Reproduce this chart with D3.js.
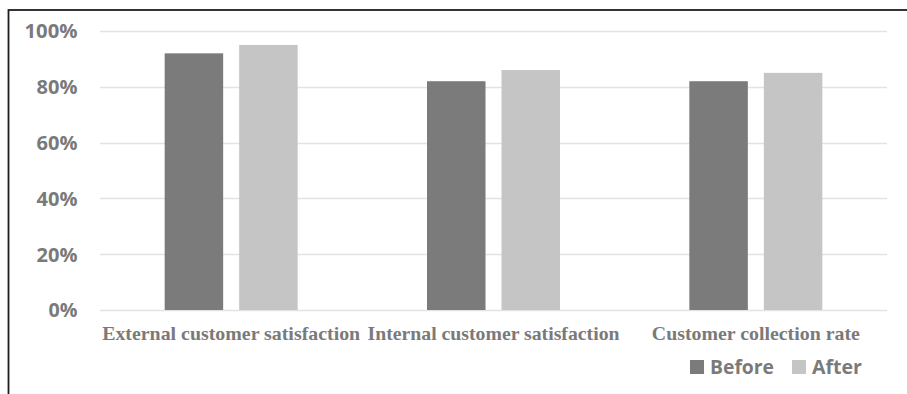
<!DOCTYPE html>
<html>
<head>
<meta charset="utf-8">
<script src="https://cdn.jsdelivr.net/npm/d3@7"></script>
<style>
  html, body { margin: 0; padding: 0; background: #fff; }
  svg { display: block; }
</style>
</head>
<body>
<svg id="chart" width="907" height="394"></svg>
<script>
// Chart data
const categories = ["External customer satisfaction", "Internal customer satisfaction", "Customer collection rate"];
const seriesNames = ["Before", "After"];
const beforeValues = [0.92, 0.82, 0.82];
const afterValues = [0.95, 0.86, 0.85];
const yTicks = [0, 0.2, 0.4, 0.6, 0.8, 1.0];

const colors = { Before: "#7b7b7b", After: "#c4c5c4" };
const textGrey = "#7a7a7a";

const svg = d3.select("#chart");
const W = 907, H = 394;

// Outer frame (runs off the right and bottom edges)
svg.append("rect")
  .attr("x", 8.5).attr("y", 10)
  .attr("width", W + 20).attr("height", H + 20)
  .attr("fill", "none")
  .attr("stroke", "#1e1e1e")
  .attr("stroke-width", 1.8);

const plot = { left: 100, right: 887, top: 31, bottom: 310 };

const y = d3.scaleLinear().domain([0, 1]).range([plot.bottom, plot.top]);
const x0 = d3.scaleBand().domain(categories).range([plot.left, plot.right]).paddingInner(0).paddingOuter(0);
const x1 = d3.scaleBand().domain(seriesNames).range([0, x0.bandwidth()])
  .paddingInner(0.2148).paddingOuter(0.868);

// Gridlines
svg.append("g")
  .selectAll("line")
  .data(yTicks)
  .join("line")
  .attr("x1", plot.left).attr("x2", plot.right)
  .attr("y1", d => Math.round(y(d)) + 0.5).attr("y2", d => Math.round(y(d)) + 0.5)
  .attr("stroke", "#e3e3e3")
  .attr("stroke-width", 1.5);

// Y axis labels
const fmt = d3.format(".0%");
const yAxis = d3.axisLeft(y).tickValues(yTicks).tickFormat(fmt).tickSize(0).tickPadding(0);
const yg = svg.append("g").attr("transform", `translate(77.5,0)`).call(yAxis);
yg.select(".domain").remove();
const tickWidths = { "0%": 29, "20%": 41, "40%": 41, "60%": 41, "80%": 41, "100%": 53 };
yg.selectAll("text")
  .attr("fill", textGrey)
  .attr("font-family", "'Open Sans', sans-serif")
  .attr("font-weight", "bold")
  .attr("font-size", 19)
  .attr("dy", "0.36em")
  .attr("text-anchor", "end")
  .attr("textLength", d => tickWidths[fmt(d)])
  .attr("lengthAdjust", "spacingAndGlyphs");

// Bars
const rows = categories.map((c, i) => ({ category: c, values: [
  { key: "Before", value: beforeValues[i] },
  { key: "After", value: afterValues[i] }
]}));

svg.append("g")
  .selectAll("g")
  .data(rows)
  .join("g")
  .attr("transform", d => `translate(${x0(d.category)},0)`)
  .selectAll("rect")
  .data(d => d.values)
  .join("rect")
  .attr("x", d => x1(d.key))
  .attr("width", x1.bandwidth())
  .attr("y", d => y(d.value))
  .attr("height", d => y(0) - y(d.value))
  .attr("fill", d => colors[d.key]);

// Category labels
const catWidths = [258, 252, 208];
svg.append("g")
  .selectAll("text")
  .data(categories)
  .join("text")
  .attr("x", d => x0(d) + x0.bandwidth() / 2)
  .attr("y", 340)
  .attr("text-anchor", "middle")
  .attr("fill", textGrey)
  .attr("font-family", "'Liberation Serif', 'Times New Roman', serif")
  .attr("font-weight", "bold")
  .attr("font-size", 19)
  .attr("textLength", (d, i) => catWidths[i])
  .attr("lengthAdjust", "spacingAndGlyphs")
  .text(d => d);

// Legend
const legendItems = [
  { key: "Before", sx: 690, tx: 710, tw: 64 },
  { key: "After", sx: 792, tx: 812, tw: 50 }
];
const lg = svg.append("g");
lg.selectAll("rect")
  .data(legendItems)
  .join("rect")
  .attr("x", d => d.sx).attr("y", 360)
  .attr("width", 14).attr("height", 14)
  .attr("fill", d => colors[d.key]);
lg.selectAll("text")
  .data(legendItems)
  .join("text")
  .attr("x", d => d.tx).attr("y", 374)
  .attr("fill", textGrey)
  .attr("font-family", "'Open Sans', sans-serif")
  .attr("font-weight", "bold")
  .attr("font-size", 19.5)
  .attr("textLength", d => d.tw)
  .attr("lengthAdjust", "spacingAndGlyphs")
  .text(d => d.key);
</script>
</body>
</html>
